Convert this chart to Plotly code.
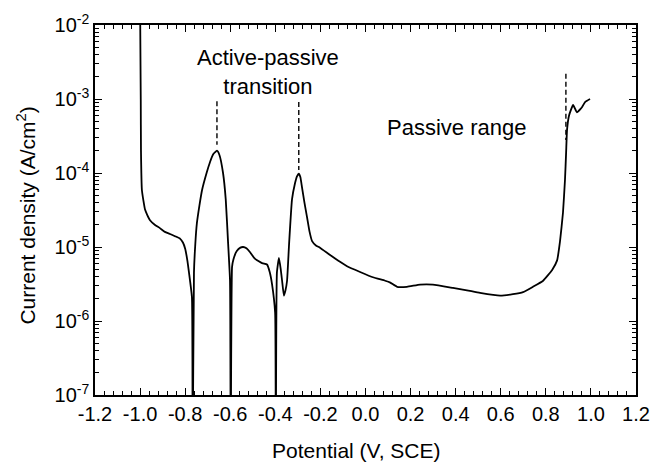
import plotly.graph_objects as go

# Potentiodynamic polarization curve
potential = [-1.000, -0.997, -0.996, -0.992, -0.985, -0.978, -0.968, -0.956, -0.935, -0.912,
             -0.890, -0.867, -0.845, -0.823, -0.810, -0.800, -0.790, -0.783, -0.770, -0.767,
             -0.761, -0.755, -0.748, -0.737, -0.725, -0.705, -0.690, -0.675, -0.659, -0.648,
             -0.632, -0.620, -0.610, -0.601, -0.598, -0.592, -0.586, -0.571, -0.555, -0.543,
             -0.528, -0.512, -0.495, -0.481, -0.465, -0.455, -0.437, -0.425, -0.415, -0.401,
             -0.398, -0.393, -0.384, -0.376, -0.370, -0.362, -0.355, -0.348, -0.339, -0.326,
             -0.313, -0.304, -0.296, -0.289, -0.282, -0.271, -0.260, -0.248, -0.237, -0.220,
             -0.202, -0.157, -0.113, -0.082, -0.024, 0.033, 0.087, 0.110, 0.140, 0.184,
             0.242, 0.299, 0.388, 0.450, 0.508, 0.597, 0.654, 0.699, 0.743, 0.788,
             0.828, 0.850, 0.863, 0.876, 0.885, 0.890, 0.894, 0.903, 0.921, 0.938,
             0.961, 0.974, 0.996]
current = [2.0e-2, 9.8e-4, 2.0e-4, 5.9e-5, 4.2e-5, 3.2e-5, 2.7e-5, 2.3e-5, 2.0e-5, 1.8e-5,
           1.6e-5, 1.5e-5, 1.4e-5, 1.3e-5, 1.15e-5, 9.5e-6, 6.5e-6, 4.5e-6, 2.1e-6, 1.0e-8,
           4.5e-6, 1.1e-5, 2.1e-5, 3.6e-5, 5.9e-5, 1.0e-4, 1.4e-4, 1.8e-4, 2.0e-4, 1.75e-4,
           1.0e-4, 4.4e-5, 1.2e-5, 3.5e-6, 1.0e-8, 5.4e-6, 6.8e-6, 8.8e-6, 9.8e-6, 1.0e-5,
           9.6e-6, 8.5e-6, 7.2e-6, 6.6e-6, 6.2e-6, 6.0e-6, 5.8e-6, 4.6e-6, 3.2e-6, 1.3e-6,
           1.0e-8, 4.5e-6, 7.1e-6, 5.0e-6, 3.5e-6, 2.2e-6, 2.6e-6, 3.5e-6, 1.1e-5, 4.4e-5,
           7.2e-5, 9.0e-5, 9.8e-5, 8.8e-5, 6.5e-5, 4.0e-5, 2.6e-5, 1.6e-5, 1.2e-5, 1.05e-5,
           9.8e-6, 7.8e-6, 6.3e-6, 5.5e-6, 4.6e-6, 3.9e-6, 3.5e-6, 3.3e-6, 2.9e-6, 2.9e-6,
           3.1e-6, 3.1e-6, 2.8e-6, 2.6e-6, 2.4e-6, 2.2e-6, 2.3e-6, 2.45e-6, 2.9e-6, 3.5e-6,
           4.9e-6, 6.6e-6, 1.2e-5, 2.9e-5, 8.1e-5, 1.9e-4, 3.8e-4, 6.0e-4, 8.3e-4, 6.6e-4,
           7.8e-4, 9.1e-4, 1.0e-3]

# Dashed marker lines
marker_x = [[-0.659, -0.659], [-0.296, -0.296], [0.889, 0.889]]
marker_y = [[9.3e-4, 2.4e-4], [9.1e-4, 1.1e-4], [2.2e-3, 2.8e-4]]

x_ticks = [-1.2, -1.0, -0.8, -0.6, -0.4, -0.2, 0.0, 0.2, 0.4, 0.6, 0.8, 1.0, 1.2]
x_labels = ["-1.2", "-1.0", "-0.8", "-0.6", "-0.4", "-0.2", "0.0", "0.2", "0.4", "0.6", "0.8", "1.0", "1.2"]
y_exponents = [-7, -6, -5, -4, -3, -2]

FONT = "Liberation Sans, Arial, sans-serif"

fig = go.Figure()
fig.add_trace(go.Scatter(x=potential, y=current, mode="lines",
                         line=dict(color="black", width=1.8, shape="spline", smoothing=0.4),
                         showlegend=False, hoverinfo="skip"))
for mx, my in zip(marker_x, marker_y):
    fig.add_trace(go.Scatter(x=mx, y=my, mode="lines",
                             line=dict(color="black", width=1.4, dash="5px,3px"),
                             showlegend=False, hoverinfo="skip"))

y_tickvals = [10.0 ** e for e in y_exponents]
y_ticktext = ["10<sup>%d</sup>" % e for e in y_exponents]
y_minor = [k * 10.0 ** e for e in y_exponents[:-1] for k in range(2, 10)]
x_minor = [round(-1.2 + 0.04 * i, 2) for i in range(61) if i % 5 != 0]

axis_common = dict(showline=True, linecolor="black", linewidth=1.5, mirror="allticks",
                   ticks="inside", ticklen=7, tickwidth=1.2, tickcolor="black",
                   showgrid=False, zeroline=False,
                   tickfont=dict(family=FONT, size=20, color="black"))

fig.update_xaxes(range=[-1.2, 1.2], tickmode="array", tickvals=x_ticks, ticktext=x_labels,
                 minor=dict(ticks="inside", ticklen=4, tickwidth=1, tickcolor="black",
                            tickmode="array", tickvals=x_minor, showgrid=False),
                 **axis_common)
fig.update_yaxes(type="log", range=[-7, -2], tickmode="array", tickvals=y_tickvals,
                 ticktext=y_ticktext,
                 minor=dict(ticks="inside", ticklen=4, tickwidth=1, tickcolor="black",
                            tickmode="array", tickvals=y_minor, showgrid=False),
                 **axis_common)

fig.update_layout(
    width=666, height=464,
    margin=dict(l=95, r=30, t=25, b=69),
    paper_bgcolor="white", plot_bgcolor="white",
    font=dict(family=FONT, size=22, color="black"),
    annotations=[
        dict(text="Active-passive<br>transition", x=-0.433, y=-2.64, xref="x", yref="y",
             showarrow=False, font=dict(size=22), xanchor="center", yanchor="middle"),
        dict(text="Passive range", x=0.404, y=-3.39, xref="x", yref="y",
             showarrow=False, font=dict(size=22), xanchor="center", yanchor="middle"),
        dict(text="Potential (V, SCE)", x=0.482, y=-0.151, xref="paper", yref="paper",
             showarrow=False, font=dict(size=21), xanchor="center", yanchor="middle"),
        dict(text="Current density (A/cm<sup>2</sup>)", x=-0.1275, y=0.485,
             xref="paper", yref="paper", textangle=-90,
             showarrow=False, font=dict(size=21), xanchor="center", yanchor="middle"),
    ],
)

fig.write_html("out.html", config={"displayModeBar": False},
               post_script="document.body.style.margin='0px';")
